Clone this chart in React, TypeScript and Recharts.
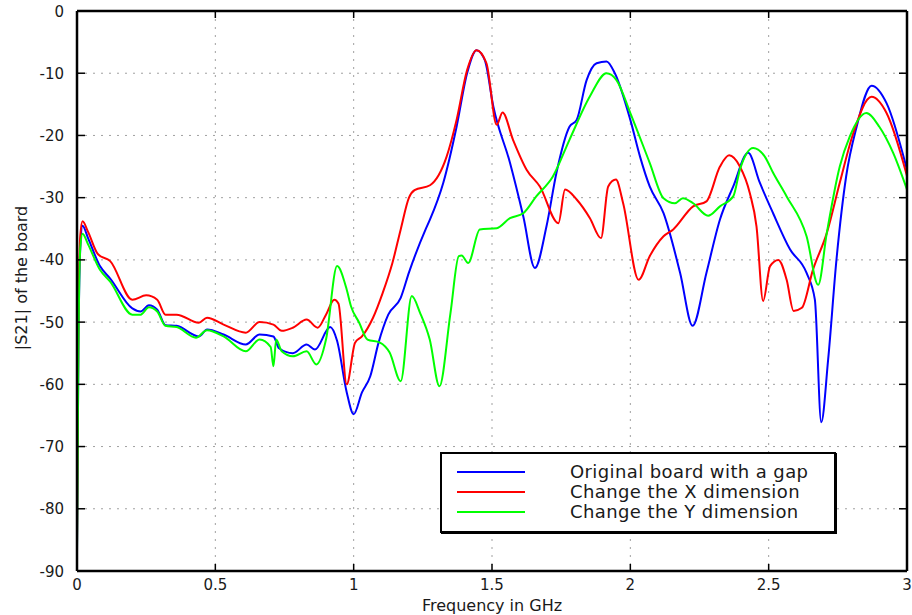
import React from 'react';
import { LineChart, Line, XAxis, YAxis, CartesianGrid, Legend } from 'recharts';

const xTicks = [0, 0.5, 1, 1.5, 2, 2.5, 3];
const yTicks = [-90, -80, -70, -60, -50, -40, -30, -20, -10, 0];

const seriesNames = ['Original board with a gap', 'Change the X dimension', 'Change the Y dimension'];
const seriesColors = ['#0000ff', '#ff0000', '#00ff00'];

const blueF = [0, 0.005, 0.012, 0.02, 0.04, 0.083, 0.12, 0.2, 0.23, 0.26, 0.29, 0.32, 0.36, 0.44, 0.47, 0.53, 0.61, 0.66, 0.71, 0.73, 0.78, 0.83, 0.86, 0.915, 0.94, 0.975, 1.0, 1.03, 1.06, 1.09, 1.125, 1.17, 1.2, 1.26, 1.276, 1.324, 1.372, 1.41, 1.444, 1.474, 1.505, 1.565, 1.613, 1.655, 1.697, 1.733, 1.78, 1.806, 1.842, 1.878, 1.914, 1.944, 2.0, 2.035, 2.07, 2.12, 2.18, 2.225, 2.275, 2.324, 2.372, 2.426, 2.468, 2.516, 2.577, 2.637, 2.667, 2.69, 2.715, 2.745, 2.78, 2.818, 2.872, 2.926, 3.0];
const blueDb = [-87, -55, -38, -34.5, -36.5, -41, -43, -47.8, -48.3, -47.3, -48, -50.5, -50.6, -52.3, -51.2, -52, -53.6, -52, -52.3, -54.2, -55, -53.6, -54.4, -50.8, -53, -61.3, -64.8, -61.3, -58.7, -53.3, -48.8, -46.1, -42, -35.1, -33.5, -27.6, -18.6, -10, -6.3, -7.9, -15.4, -24.4, -33, -41.3, -34.6, -26, -18.6, -17.5, -11.1, -8.4, -8.1, -10, -17.5, -23.4, -28.2, -32.5, -42.1, -50.6, -42.1, -33.5, -28.2, -22.8, -27.6, -32.5, -38.3, -42.1, -46.4, -66.1, -56, -40, -26.6, -18.6, -12, -14.8, -25.5];

const redF = [0, 0.005, 0.012, 0.02, 0.04, 0.076, 0.12, 0.2, 0.25, 0.29, 0.32, 0.36, 0.44, 0.47, 0.53, 0.61, 0.66, 0.71, 0.74, 0.78, 0.83, 0.87, 0.9, 0.93, 0.945, 0.975, 1.005, 1.03, 1.07, 1.105, 1.14, 1.17, 1.2, 1.22, 1.276, 1.336, 1.372, 1.41, 1.444, 1.48, 1.517, 1.538, 1.576, 1.625, 1.673, 1.74, 1.764, 1.806, 1.854, 1.894, 1.92, 1.948, 1.974, 2.03, 2.07, 2.12, 2.155, 2.227, 2.275, 2.324, 2.357, 2.396, 2.432, 2.456, 2.48, 2.505, 2.535, 2.565, 2.59, 2.62, 2.66, 2.71, 2.757, 2.806, 2.872, 2.926, 3.0];
const redDb = [-86, -50, -36, -33.8, -35.5, -39.1, -40.2, -46.4, -45.7, -46.4, -48.8, -48.8, -50.1, -49.3, -50.4, -51.7, -50, -50.4, -51.4, -50.9, -49.6, -50.9, -48.8, -46.4, -47, -60, -53.3, -52.3, -49.3, -45.3, -40.5, -35.1, -30, -28.8, -28, -23.4, -17.5, -9.5, -6.3, -8.4, -18.3, -16.3, -20.7, -25.5, -28.2, -34.1, -28.7, -30.3, -33.3, -36.5, -28.2, -27.1, -30.9, -43.2, -39.4, -36.2, -35.1, -31.4, -30.6, -25, -23.2, -25, -29.3, -34.6, -46.6, -41, -40, -43.2, -48.2, -47.7, -41.6, -35.7, -27.6, -19.6, -13.8, -16.4, -26.5];

const greenF = [0, 0.005, 0.012, 0.02, 0.04, 0.083, 0.12, 0.2, 0.23, 0.26, 0.29, 0.32, 0.36, 0.43, 0.47, 0.53, 0.61, 0.66, 0.7, 0.71, 0.72, 0.74, 0.78, 0.83, 0.865, 0.9, 0.94, 0.975, 0.99, 1.02, 1.05, 1.095, 1.13, 1.17, 1.21, 1.24, 1.275, 1.31, 1.35, 1.38, 1.39, 1.414, 1.456, 1.517, 1.565, 1.613, 1.66, 1.72, 1.78, 1.854, 1.914, 1.95, 2.0, 2.07, 2.12, 2.161, 2.19, 2.227, 2.281, 2.324, 2.372, 2.396, 2.444, 2.486, 2.516, 2.565, 2.637, 2.679, 2.71, 2.757, 2.793, 2.853, 2.9, 2.95, 3.0];
const greenDb = [-87, -55, -38, -35.8, -37.5, -41.6, -43.5, -48.8, -48.8, -47.6, -48.3, -50.6, -50.8, -52.5, -51.3, -52.3, -54.7, -52.8, -54, -57.1, -52.8, -54.7, -55.5, -54.7, -56.8, -52.8, -41, -44.8, -47.4, -50.1, -52.8, -53.3, -54.9, -59.5, -45.8, -48.5, -52.8, -60.3, -48.5, -39.4, -39.3, -40.5, -35.1, -34.9, -33.3, -32.5, -29.8, -26.6, -20.7, -13.7, -10, -11.1, -16.4, -24.4, -30.1, -30.9, -30.1, -30.9, -32.9, -31.4, -29.8, -25.5, -22, -23.4, -26, -29.8, -36.2, -44, -35.7, -25, -20.2, -16.4, -18.6, -22.8, -28.7];

const toRows = (fs: number[], dbs: number[]) => fs.map((f, i) => ({ f, db: dbs[i] }));
const seriesData = [toRows(blueF, blueDb), toRows(redF, redDb), toRows(greenF, greenDb)];

const FONT = '"DejaVu Sans", "Liberation Sans", sans-serif';
const TXT = '#1a1a1a';

const BottomTick = (p: any) => (
  <g>
    <line x1={p.x} x2={p.x} y1={p.y} y2={p.y - 7} stroke="#000" strokeWidth={1.5} />
    <text x={p.x} y={p.y + 19} textAnchor="middle" fontFamily={FONT} fontSize={15} fill={TXT}>
      {String(p.payload.value)}
    </text>
  </g>
);
const TopTick = (p: any) => (
  <line x1={p.x} x2={p.x} y1={p.y} y2={p.y + 7} stroke="#000" strokeWidth={1.5} />
);
const LeftTick = (p: any) => (
  <g>
    <line x1={p.x} x2={p.x + 8} y1={p.y} y2={p.y} stroke="#000" strokeWidth={1.5} />
    <text x={p.x - 13} y={p.y + 5.5} textAnchor="end" fontFamily={FONT} fontSize={15} fill={TXT}>
      {String(p.payload.value)}
    </text>
  </g>
);
const RightTick = (p: any) => (
  <line x1={p.x} x2={p.x - 8} y1={p.y} y2={p.y} stroke="#000" strokeWidth={1.5} />
);

const YLabel = (p: any) => {
  const vb = p.viewBox || { x: 0, y: 0, width: 0, height: 0 };
  const cx = vb.x + 27;
  const cy = vb.y + vb.height / 2 - 13;
  return (
    <text x={cx} y={cy} transform={`rotate(-90 ${cx} ${cy})`} textAnchor="middle" fontFamily={FONT} fontSize={16} fill={TXT}>
      |S21| of the board
    </text>
  );
};
const XLabel = (p: any) => {
  const vb = p.viewBox || { x: 0, y: 0, width: 0, height: 0 };
  return (
    <text x={vb.x + vb.width / 2} y={vb.y + 40} textAnchor="middle" fontFamily={FONT} fontSize={16} fill={TXT}>
      Frequency in GHz
    </text>
  );
};

const LegendBox = (props: any) => {
  const raw = (props.payload || []) as any[];
  const items = [...raw].sort((a, b) => seriesNames.indexOf(a.value) - seriesNames.indexOf(b.value));
  return (
    <div style={{ width: 396, height: 81, boxSizing: 'border-box', border: '2px solid #000', boxShadow: '1px 1px 0 #000', background: '#fff', position: 'relative', fontFamily: FONT }}>
      {items.map((it, i) => (
        <div key={i} style={{ position: 'absolute', left: 0, top: 18 + i * 20 - 10, height: 20, width: 390 }}>
          <div style={{ position: 'absolute', left: 15, top: 9, width: 68, height: 2, background: it.color }} />
          <div style={{ position: 'absolute', left: 128, top: 0, lineHeight: '20px', fontSize: 18, letterSpacing: 0.4, color: TXT, whiteSpace: 'nowrap' }}>
            {it.value}
          </div>
        </div>
      ))}
    </div>
  );
};

export default function App() {
  return (
    <div style={{ position: 'absolute', left: 0, top: 0, width: 912, height: 615, background: '#fff' }}>
      <LineChart width={912} height={615} margin={{ top: 10, right: 4, bottom: 0, left: 0 }}>
        <CartesianGrid xAxisId="b" yAxisId="l" stroke="#a0a0a0" strokeDasharray="2 6" strokeWidth={1} />
        <XAxis xAxisId="b" type="number" dataKey="f" domain={[0, 3]} ticks={xTicks} interval={0} allowDataOverflow
          orientation="bottom" height={44} tickSize={0} tickMargin={0} tickLine={false}
          axisLine={{ stroke: '#000', strokeWidth: 2.5 }} tick={<BottomTick />} label={<XLabel />} />
        <XAxis xAxisId="t" type="number" dataKey="f" domain={[0, 3]} ticks={xTicks} interval={0} allowDataOverflow
          orientation="top" height={1} tickSize={0} tickMargin={0} tickLine={false}
          axisLine={{ stroke: '#000', strokeWidth: 2.5 }} tick={<TopTick />} />
        <YAxis yAxisId="l" type="number" domain={[-90, 0]} ticks={yTicks} interval={0} allowDataOverflow
          orientation="left" width={77} tickSize={0} tickMargin={0} tickLine={false}
          axisLine={{ stroke: '#000', strokeWidth: 2.5 }} tick={<LeftTick />} label={<YLabel />} />
        <YAxis yAxisId="r" type="number" domain={[-90, 0]} ticks={yTicks} interval={0} allowDataOverflow
          orientation="right" width={1} tickSize={0} tickMargin={0} tickLine={false}
          axisLine={{ stroke: '#000', strokeWidth: 2.5 }} tick={<RightTick />} />
        <Legend layout="horizontal" verticalAlign="middle" align="center" content={<LegendBox />}
          wrapperStyle={{ left: 440, top: 452, width: 396, height: 81 }} />
        {seriesData.map((d, i) => (
          <Line key={i} xAxisId="b" yAxisId="l" data={d} dataKey="db" name={seriesNames[i]} type="monotone"
            stroke={seriesColors[i]} strokeWidth={2} dot={false} activeDot={false} isAnimationActive={false} />
        ))}
      </LineChart>
    </div>
  );
}
